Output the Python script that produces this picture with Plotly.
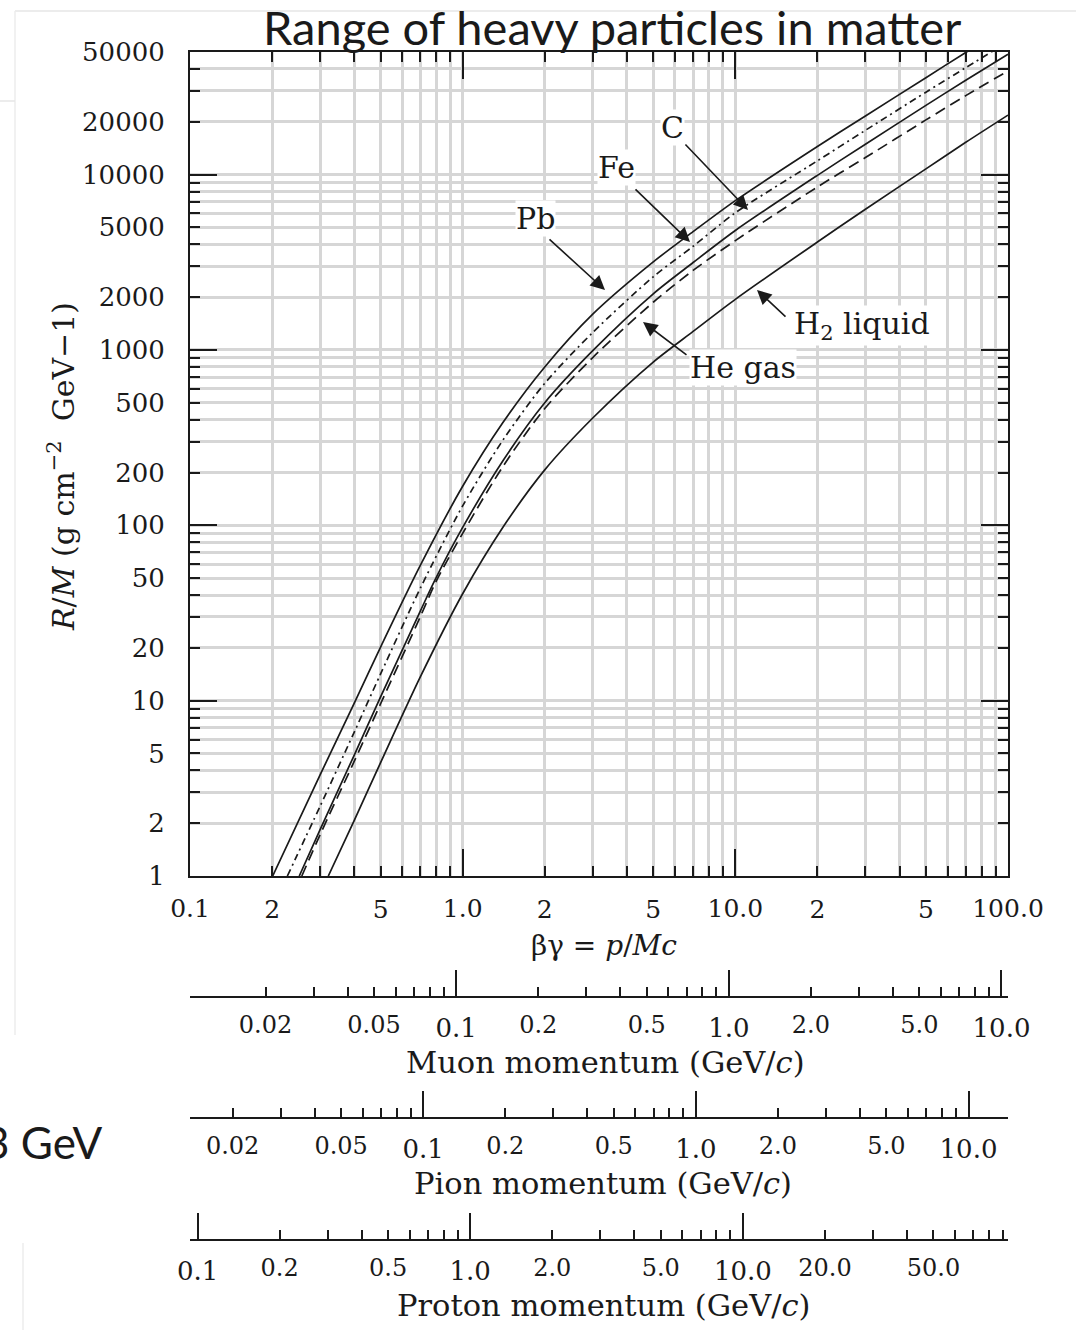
import math
import plotly.graph_objects as go

W, H = 1080, 1330

# ---------------- data (beta*gamma , R/M) ----------------
bg_pb = [0.201, 0.3, 0.4, 0.5, 0.7, 1.0, 1.409, 2.0, 3.0, 5.0, 7.0, 10.0, 20.0, 30.0, 50.0, 70.0, 100.0]
rm_pb = [1, 3.77, 9.66, 20.2, 59.2, 167, 388, 800, 1600, 3177, 4725, 7100, 14450, 21600, 35700, 49700, 69800]

bg_fe = [0.2275, 0.3, 0.4, 0.5, 0.7, 1.0, 1.409, 2.0, 3.0, 5.0, 7.0, 10.0, 20.0, 30.0, 50.0, 70.0, 100.0]
rm_fe = [1, 2.5, 6.6, 14.2, 43.9, 129, 308, 645, 1257, 2612, 3900, 6050, 11980, 17880, 29500, 40700, 57200]

bg_c = [0.2516, 0.3, 0.4, 0.5, 0.7, 0.791, 1.0, 1.409, 2.0, 3.0, 5.0, 7.0, 10.0, 20.0, 30.0, 50.0, 70.0, 100.0]
rm_c = [1, 1.84, 4.88, 10.5, 32.5, 48.7, 97.2, 235, 500, 990, 2090, 3150, 4800, 9900, 14900, 24800, 34500, 48500]

bg_he = [0.257, 0.3, 0.4, 0.5, 0.7, 0.8, 1.0, 1.409, 2.0, 3.0, 5.0, 7.0, 10.0, 20.0, 30.0, 50.0, 70.0, 100.0]
rm_he = [1, 1.72, 4.5, 9.6, 30.2, 48, 90, 218, 463, 905, 1870, 2840, 4200, 8500, 12500, 20500, 28200, 39000]

bg_h2 = [0.3215, 0.4, 0.5, 0.7, 1.0, 1.409, 2.0, 3.0, 5.0, 7.0, 10.0, 20.0, 30.0, 50.0, 70.0, 100.0]
rm_h2 = [1, 2.07, 4.43, 13.7, 40.7, 98, 207, 409, 853, 1275, 1943, 4125, 6340, 10780, 15270, 21830]

# ---------------- tick labels ----------------
x_labels = {0.1: "0.1", 0.2: "2", 0.5: "5", 1: "1.0", 2: "2", 5: "5", 10: "10.0", 20: "2", 50: "5", 100: "100.0"}
y_labels = {1: "1", 2: "2", 5: "5", 10: "10", 20: "20", 50: "50", 100: "100", 200: "200", 500: "500",
            1000: "1000", 2000: "2000", 5000: "5000", 10000: "10000", 20000: "20000", 50000: "50000"}
muon_labels = {0.02: "0.02", 0.05: "0.05", 0.2: "0.2", 0.5: "0.5", 2: "2.0", 5: "5.0"}
muon_dec = {0.1: "0.1", 1: "1.0", 10: "10.0"}
pion_labels = {0.02: "0.02", 0.05: "0.05", 0.2: "0.2", 0.5: "0.5", 2: "2.0", 5: "5.0"}
pion_dec = {0.1: "0.1", 1: "1.0", 10: "10.0"}
proton_labels = {0.2: "0.2", 0.5: "0.5", 2: "2.0", 5: "5.0", 20: "20.0", 50: "50.0"}
proton_dec = {0.1: "0.1", 1: "1.0", 10: "10.0"}

M_MU, M_PI, M_P = 0.1056584, 0.1395704, 0.9382721   # GeV/c^2
BG_MIN, BG_MAX = 0.1, 100.0
RM_MIN, RM_MAX = 1.0, 50000.0

SERIF = "DejaVu Serif"
SANS = "Lato"
INK = "#1a1a1a"
GRID = "#d6d6d6"


def log_ticks(lo, hi):
    out = []
    for e in range(-3, 6):
        for m in range(1, 10):
            v = round(m * 10 ** e, 6)
            if lo * 0.999 <= v <= hi * 1.001:
                out.append(v)
    return out


def decades(lo, hi):
    return [v for v in log_ticks(lo, hi) if abs(math.log10(v) - round(math.log10(v))) < 1e-9]


def px(x):
    return x / W


def py(y):
    return 1 - y / H


fig = go.Figure()

line_style = dict(color=INK, width=1.7, shape="spline", smoothing=0.8)
fig.add_trace(go.Scatter(x=bg_h2, y=rm_h2, mode="lines", line=dict(**line_style), name="H2 liquid"))
fig.add_trace(go.Scatter(x=bg_he, y=rm_he, mode="lines", line=dict(**line_style, dash="11px,6px"), name="He gas"))
fig.add_trace(go.Scatter(x=bg_c, y=rm_c, mode="lines", line=dict(**line_style), name="C"))
fig.add_trace(go.Scatter(x=bg_fe, y=rm_fe, mode="lines", line=dict(**line_style, dash="7px,4px,2px,4px"), name="Fe"))
fig.add_trace(go.Scatter(x=bg_pb, y=rm_pb, mode="lines", line=dict(**line_style), name="Pb"))

# invisible anchor traces so every auxiliary axis is drawn
aux = {"x2": (BG_MIN * M_MU, BG_MAX * M_MU), "x3": (BG_MIN * M_MU, BG_MAX * M_MU),
       "x4": (BG_MIN * M_PI, BG_MAX * M_PI), "x5": (BG_MIN * M_PI, BG_MAX * M_PI),
       "x6": (BG_MIN * M_P, BG_MAX * M_P), "x7": (BG_MIN * M_P, BG_MAX * M_P),
       "x8": (BG_MIN, BG_MAX)}
for ax, (lo, hi) in aux.items():
    fig.add_trace(go.Scatter(x=[lo * 1.01, hi * 0.99], y=[2, 2], xaxis=ax, yaxis="y", mode="markers",
                             marker=dict(opacity=0), hoverinfo="skip", showlegend=False))
fig.add_trace(go.Scatter(x=[0.2, 0.3], y=[2, 3], xaxis="x", yaxis="y2", mode="markers",
                         marker=dict(opacity=0), hoverinfo="skip", showlegend=False))

dom_x = [px(190), px(1008)]
dom_y = [py(876), py(52)]

xt = log_ticks(BG_MIN, BG_MAX)
yt = log_ticks(RM_MIN, RM_MAX)

common = dict(type="log", zeroline=False, tickcolor=INK, tickwidth=1.5, automargin=False)

fig.update_layout(
    width=W, height=H, margin=dict(l=0, r=0, t=0, b=0, autoexpand=False),
    paper_bgcolor="white", plot_bgcolor="white", showlegend=False,
    xaxis=dict(**common, domain=dom_x, anchor="y", range=[math.log10(BG_MIN), math.log10(BG_MAX)],
               tickmode="array", tickvals=xt,
               ticktext=[x_labels.get(v, "") if v not in (0.1, 1, 10, 100) else "" for v in xt],
               ticks="inside", ticklen=10, showline=True, linecolor=INK, linewidth=2, mirror="ticks",
               showgrid=True, gridcolor=GRID, gridwidth=2.5,
               tickfont=dict(family=SERIF, size=25, color=INK), ticklabelstandoff=10),
    xaxis8=dict(**common, overlaying="x", anchor="y", side="bottom",
                range=[math.log10(BG_MIN), math.log10(BG_MAX)],
                tickmode="array", tickvals=decades(BG_MIN, BG_MAX),
                ticktext=[x_labels[v] for v in decades(BG_MIN, BG_MAX)],
                ticks="inside", ticklen=27, mirror="ticks", showline=False, showgrid=False,
                tickfont=dict(family=SERIF, size=25, color=INK), ticklabelstandoff=15),
    yaxis=dict(**common, domain=dom_y, anchor="x", range=[math.log10(RM_MIN), math.log10(RM_MAX)],
               tickmode="array", tickvals=yt, ticktext=[y_labels.get(v, "") for v in yt],
               ticks="inside", ticklen=10, showline=True, linecolor=INK, linewidth=2, mirror="ticks",
               showgrid=True, gridcolor=GRID, gridwidth=2.5,
               tickfont=dict(family=SERIF, size=26, color=INK), ticklabelstandoff=18),
    yaxis2=dict(**common, overlaying="y", anchor="x", side="left",
                range=[math.log10(RM_MIN), math.log10(RM_MAX)],
                tickmode="array", tickvals=[10, 100, 1000, 10000], ticktext=["", "", "", ""],
                ticks="inside", ticklen=27, mirror="ticks", showline=False, showgrid=False),
)


def bottom_axes(minor_name, major_name, mass, pos, labels, dec_labels):
    lo, hi = BG_MIN * mass, BG_MAX * mass
    rng = [math.log10(lo), math.log10(hi)]
    ticks = log_ticks(lo, hi)
    decs = decades(lo, hi)
    fig.update_layout({
        minor_name: dict(**common, overlaying="x", anchor="free", position=pos, side="bottom", range=rng,
                         tickmode="array", tickvals=ticks,
                         ticktext=[labels.get(v, "") for v in ticks],
                         ticks="inside", ticklen=9, showline=True, linecolor=INK, linewidth=2,
                         showgrid=False, tickfont=dict(family=SERIF, size=24, color=INK),
                         ticklabelstandoff=6),
        major_name: dict(**common, overlaying="x", anchor="free", position=pos, side="bottom", range=rng,
                         tickmode="array", tickvals=decs,
                         ticktext=[dec_labels.get(v, "") for v in decs],
                         ticks="inside", ticklen=27, showline=False, showgrid=False,
                         tickfont=dict(family=SERIF, size=26, color=INK), ticklabelstandoff=13),
    })


bottom_axes("xaxis2", "xaxis3", M_MU, py(997), muon_labels, muon_dec)
bottom_axes("xaxis4", "xaxis5", M_PI, py(1118), pion_labels, pion_dec)
bottom_axes("xaxis6", "xaxis7", M_P, py(1240), proton_labels, proton_dec)

ann = []


def text(x, y, s, size=28, family=SERIF, bg=None, angle=0, xanchor="center"):
    d = dict(x=px(x), y=py(y), xref="paper", yref="paper", text=s, showarrow=False,
             xanchor=xanchor, yanchor="middle", textangle=angle, borderpad=0,
             font=dict(family=family, size=size, color=INK))
    if bg:
        d["bgcolor"] = bg
    ann.append(d)


def arrow(x0, y0, x1, y1):
    ann.append(dict(x=px(x1), y=py(y1), ax=x0 - x1, ay=y0 - y1, xref="paper", yref="paper",
                    axref="pixel", ayref="pixel", text="", showarrow=True, arrowhead=2,
                    arrowsize=1.8, arrowwidth=1.6, arrowcolor=INK, standoff=0, startstandoff=0))


text(612, 27, "Range of heavy particles in matter", size=47, family=SANS)
text(104, 1142, "3 GeV", size=44, family=SANS, xanchor="right")

text(604, 945, "βγ = <i>p</i>/<i>Mc</i>", size=28)
text(605, 1062, "Muon momentum (GeV/<i>c</i>)", size=30.5)
text(603, 1183, "Pion momentum (GeV/<i>c</i>)", size=30.5)
text(603, 1305, "Proton momentum (GeV/<i>c</i>)", size=30.5)
text(61, 467, "<i>R</i>/<i>M</i> (g cm<sup>−2</sup>  GeV−1)", size=30, angle=-90)

text(535, 219, "Pb", size=30, bg="white")
text(616, 168, "Fe", size=30, bg="white")
text(672, 128, "C", size=30, bg="white")
text(862, 325, "H<sub>2</sub> liquid", size=30, bg="white")
text(743, 368, "He gas", size=30, bg="white")

arrow(548, 238, 605, 290)
arrow(634, 188, 690, 242)
arrow(684, 143, 748, 210)
arrow(787, 318, 757, 290)
arrow(688, 356, 643, 322)

fig.update_layout(annotations=ann)

# faint slide borders
shapes = [
    dict(type="line", xref="paper", yref="paper", x0=px(15), x1=px(1076), y0=py(11), y1=py(11),
         line=dict(color="#e6e6e6", width=1.5)),
    dict(type="line", xref="paper", yref="paper", x0=px(15), x1=px(15), y0=py(11), y1=py(1035),
         line=dict(color="#ececec", width=1.5)),
    dict(type="line", xref="paper", yref="paper", x0=px(0), x1=px(15), y0=py(101), y1=py(101),
         line=dict(color="#e6e6e6", width=1.5)),
    dict(type="line", xref="paper", yref="paper", x0=px(23), x1=px(23), y0=py(1243), y1=py(1330),
         line=dict(color="#ececec", width=1.5)),
]
fig.update_layout(shapes=shapes)

fig.write_html("out.html")
